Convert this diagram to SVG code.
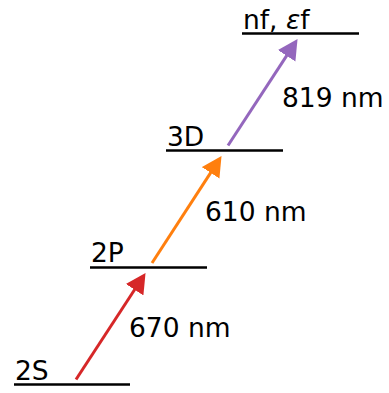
<svg xmlns="http://www.w3.org/2000/svg" width="389" height="393" viewBox="0 0 389 393">
<style>
.lvl{stroke:#000;stroke-width:2.5;fill:none}
.t{font-family:"DejaVu Sans",sans-serif;font-size:26.5px;fill:#000}
.it{font-style:italic}
.arr{stroke-width:3;fill:none}
</style>
<defs>
<marker id="hr" markerUnits="userSpaceOnUse" markerWidth="22" markerHeight="22" viewBox="0 -11 22 22" refX="2" refY="0" orient="auto"><path d="M0,-10.5 L20,0 L0,10.5 z" fill="#d62728"/></marker>
<marker id="ho" markerUnits="userSpaceOnUse" markerWidth="22" markerHeight="22" viewBox="0 -11 22 22" refX="2" refY="0" orient="auto"><path d="M0,-10.5 L20,0 L0,10.5 z" fill="#ff7f0e"/></marker>
<marker id="hp" markerUnits="userSpaceOnUse" markerWidth="22" markerHeight="22" viewBox="0 -11 22 22" refX="2" refY="0" orient="auto"><path d="M0,-10.5 L20,0 L0,10.5 z" fill="#9467bd"/></marker>
</defs>
<rect width="389" height="393" fill="#fff"/>
<g id="level-2S"><line class="lvl" x1="14" y1="384.5" x2="130" y2="384.5"/><text class="t" x="15" y="380">2S</text></g>
<g id="level-2P"><line class="lvl" x1="90" y1="267.5" x2="207" y2="267.5"/><text class="t" x="91" y="262">2P</text></g>
<g id="level-3D"><line class="lvl" x1="166" y1="150.5" x2="283" y2="150.5"/><text class="t" x="167" y="146">3D</text></g>
<g id="level-nf"><line class="lvl" x1="242" y1="33.5" x2="359" y2="33.5"/><text class="t" x="243" y="29">nf, <tspan class="it">ε</tspan>f</text></g>
<g id="connectors">
<line class="arr" stroke="#d62728" x1="76" y1="379.5" x2="135.7" y2="288" marker-end="url(#hr)"/>
<text class="t" x="129" y="337">670 nm</text>
<line class="arr" stroke="#ff7f0e" x1="152" y1="263" x2="211.7" y2="171.1" marker-end="url(#ho)"/>
<text class="t" x="205" y="221">610 nm</text>
<line class="arr" stroke="#9467bd" x1="228" y1="145.5" x2="287.7" y2="54.1" marker-end="url(#hp)"/>
<text class="t" x="282" y="107">819 nm</text>
</g>
</svg>
